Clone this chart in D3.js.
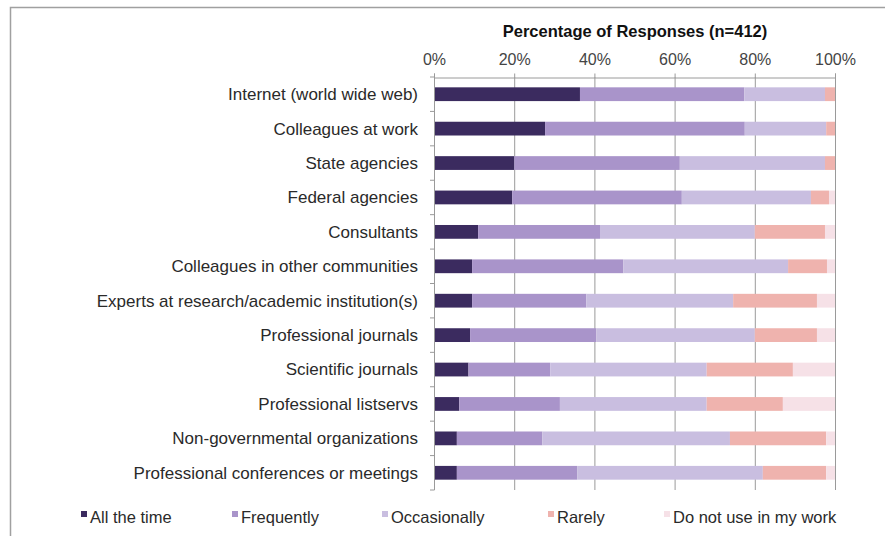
<!DOCTYPE html>
<html><head><meta charset="utf-8">
<script src="https://cdn.jsdelivr.net/npm/d3@7"></script>
<style>body{margin:0;background:#fff;} svg{display:block;font-family:"Liberation Sans",Arial,sans-serif;}</style>
</head><body>
<svg id="c" width="885" height="536"></svg>
<script>
const categories = ["Internet (world wide web)","Colleagues at work","State agencies","Federal agencies","Consultants","Colleagues in other communities","Experts at research/academic institution(s)","Professional journals","Scientific journals","Professional listservs","Non-governmental organizations","Professional conferences or meetings"];
const seriesNames = ["All the time","Frequently","Occasionally","Rarely","Do not use in my work"];
const allTheTime   = [36.4,27.7,20.0,19.5,11.0,9.5,9.5,9.0,8.6,6.3,5.7,5.7];
const frequently   = [41.0,49.8,41.3,42.3,30.4,37.7,28.5,31.5,20.4,25.1,21.3,30.0];
const occasionally = [20.1,20.3,36.2,32.2,38.6,41.1,36.6,39.5,39.0,36.6,46.8,46.3];
const rarely       = [2.5,2.2,2.5,4.5,17.5,9.7,20.9,15.5,21.5,19.0,24.0,15.8];
const doNotUse     = [0.0,0.0,0.0,1.5,2.5,2.0,4.5,4.5,10.5,13.0,2.2,2.2];
const tickValues = [0,20,40,60,80,100];
const colors = ["#3b2b5f","#a994ca","#c9bee0","#efb3ae","#f6e1e7"];

const svg = d3.select("#c");
svg.append("rect").attr("x",10.5).attr("y",7.5).attr("width",890).attr("height",540)
  .attr("fill","none").attr("stroke","#a0a0a0").attr("stroke-width",1.5);

const x = d3.scaleLinear().domain([0,100]).range([434,835]);
const y = d3.scaleBand().domain(categories).range([77,490]).paddingInner(0.6).paddingOuter(0.3);

svg.append("g").selectAll("line").data(tickValues.slice(1)).join("line")
  .attr("x1",d=>x(d)+0.5).attr("x2",d=>x(d)+0.5).attr("y1",77).attr("y2",490)
  .attr("stroke","#9a9a9a").attr("stroke-width",1);

const series = [allTheTime,frequently,occasionally,rarely,doNotUse];
const rows = categories.map((c,i)=>{const o={cat:c}; seriesNames.forEach((s,j)=>o[s]=series[j][i]); return o;});
const stack = d3.stack().keys(seriesNames)(rows);
svg.append("g").selectAll("g").data(stack).join("g").attr("fill",(d,i)=>colors[i])
  .selectAll("rect").data(d=>d).join("rect")
  .attr("x",d=>x(d[0])).attr("width",d=>Math.max(0,x(d[1])-x(d[0])))
  .attr("y",d=>y(d.data.cat)).attr("height",y.bandwidth());

const ax = d3.axisTop(x).tickValues(tickValues).tickFormat(d=>d+"%").tickSize(4).tickPadding(9);
const gx = svg.append("g").attr("transform","translate(0,77.5)").call(ax);
gx.select(".domain").attr("stroke","#9a9a9a");
gx.selectAll(".tick line").attr("stroke","#9a9a9a");
gx.selectAll("text").attr("font-size",16).attr("fill","#444").attr("font-family","Liberation Sans, Arial");

svg.append("line").attr("x1",434.5).attr("x2",434.5).attr("y1",77).attr("y2",490).attr("stroke","#9a9a9a");
const bounds = d3.range(categories.length+1).map(i=>77+(490-77)*i/categories.length);
svg.append("g").selectAll("line").data(bounds).join("line")
  .attr("x1",430).attr("x2",434.5).attr("y1",d=>d).attr("y2",d=>d).attr("stroke","#9a9a9a");
svg.append("g").selectAll("text").data(categories).join("text")
  .attr("x",418).attr("y",d=>y(d)+y.bandwidth()/2).attr("dy","0.35em")
  .attr("text-anchor","end").attr("font-size",17).attr("fill","#2a2a2a").text(d=>d);

svg.append("text").attr("x",635).attr("y",37).attr("text-anchor","middle")
  .attr("font-size",16.5).attr("font-weight","bold").attr("fill","#111").text("Percentage of Responses (n=412)");

const legX = [81,232,382,548,664];
const lg = svg.append("g").selectAll("g").data(seriesNames).join("g")
  .attr("transform",(d,i)=>`translate(${legX[i]},523)`);
lg.append("rect").attr("x",0).attr("y",-12).attr("width",6).attr("height",6).attr("fill",(d,i)=>colors[i]);
lg.append("text").attr("x",9).attr("y",0).attr("font-size",16.5).attr("fill","#2a2a2a").text(d=>d);
</script>
</body></html>
